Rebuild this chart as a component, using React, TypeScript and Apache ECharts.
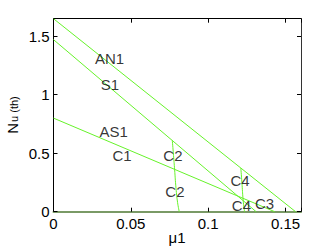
import React, { useEffect, useRef } from "react";
import * as echarts from "echarts";

// Boundary lines (mu1, N_u(th))
const AN1 = [[0, 1.65], [0.1565, 0]];
const S1 = [[0, 1.471], [0.131, 0]];
const AS1 = [[0, 0.8], [0.143, 0]];
const C2 = [[0.0768, 0.609], [0.0776, 0.48], [0.0783, 0.36], [0.0792, 0.2], [0.0802, 0.08], [0.0813, 0]];
const C4 = [[0.1211, 0.373], [0.1218, 0.25], [0.1226, 0.1], [0.1235, 0]];

// Region labels
const LABEL_NAMES = ["AN1", "S1", "AS1", "C1", "C2", "C2", "C4", "C4", "C3"];
const LABEL_X = [0.0362, 0.0365, 0.0389, 0.0443, 0.0772, 0.0785, 0.1206, 0.1215, 0.1364];
const LABEL_Y = [1.311, 1.085, 0.689, 0.48, 0.484, 0.172, 0.266, 0.057, 0.074];

const X_MIN = 0, X_MAX = 0.16, X_STEP = 0.05;
const Y_MIN = 0, Y_MAX = 1.65, Y_STEP = 0.5;

const GREEN = "#66f22a";
const FONT = "Liberation Sans, Arial, Helvetica, sans-serif";

const fmt = (step: number) => (v: number) =>
  Math.abs(v / step - Math.round(v / step)) > 1e-6 ? "" : String(+v.toFixed(3));

export default function App() {
  const ref = useRef<HTMLDivElement>(null);
  useEffect(() => {
    if (!ref.current) return;
    const chart = echarts.init(ref.current, undefined, { renderer: "svg" });
    const lineSeries = (name: string, data: number[][], smooth = false) => ({
      name,
      type: "line",
      data,
      showSymbol: false,
      symbol: "none",
      smooth,
      silent: true,
      lineStyle: { color: GREEN, width: 1 },
      z: 3,
    });
    chart.setOption({
      animation: false,
      backgroundColor: "#fff",
      textStyle: { fontFamily: FONT },
      grid: { left: 53.5, top: 18.7, right: 31, bottom: 38.3, containLabel: false, outerBoundsMode: "none" },
      xAxis: [
        {
          type: "value", min: X_MIN, max: X_MAX, interval: X_STEP, position: "bottom",
          axisLine: { show: true, onZero: false, lineStyle: { color: "#7a9a66", width: 2 } },
          axisTick: { show: true, inside: true, length: 4, lineStyle: { color: "#000" } },
          axisLabel: { color: "#000", fontSize: 15, fontFamily: FONT, margin: 4, formatter: fmt(X_STEP) },
          splitLine: { show: false },
        },
        {
          type: "value", min: X_MIN, max: X_MAX, interval: X_STEP, position: "top",
          axisLine: { show: true, onZero: false, lineStyle: { color: "#000", width: 1 } },
          axisTick: { show: true, inside: true, length: 4, lineStyle: { color: "#000" } },
          axisLabel: { show: false },
          splitLine: { show: false },
        },
      ],
      yAxis: [
        {
          type: "value", min: Y_MIN, max: Y_MAX, interval: Y_STEP, position: "left",
          axisLine: { show: true, onZero: false, lineStyle: { color: "#000", width: 1 } },
          axisTick: { show: true, inside: true, length: 4, lineStyle: { color: "#000" } },
          axisLabel: { color: "#000", fontSize: 15, fontFamily: FONT, margin: 4, formatter: fmt(Y_STEP) },
          splitLine: { show: false },
        },
        {
          type: "value", min: Y_MIN, max: Y_MAX, interval: Y_STEP, position: "right",
          axisLine: { show: true, onZero: false, lineStyle: { color: "#333", width: 1 } },
          axisTick: { show: true, inside: true, length: 4, lineStyle: { color: "#000" } },
          axisLabel: { show: false },
          splitLine: { show: false },
        },
      ],
      graphic: [
        {
          type: "text",
          x: 12,
          y: 115,
          rotation: Math.PI / 2,
          style: {
            text: "{a|N}{b|u (th)}",
            align: "center",
            verticalAlign: "middle",
            fill: "#000",
            fontFamily: FONT,
            rich: {
              a: { fontSize: 15, lineHeight: 15, verticalAlign: "top", fontFamily: FONT, fill: "#000" },
              b: { fontSize: 11, lineHeight: 10, verticalAlign: "bottom", padding: [9, 0, 0, 1], fontFamily: FONT, fill: "#000" },
            },
          },
        },
        {
          type: "text",
          x: 177,
          y: 237.5,
          style: { text: "μ1", align: "center", verticalAlign: "middle", fontSize: 15, fontFamily: FONT, fill: "#000" },
        },
      ],
      series: [
        lineSeries("AN1", AN1),
        lineSeries("S1", S1),
        lineSeries("AS1", AS1),
        lineSeries("C2", C2, true),
        lineSeries("C4", C4, true),
        {
          type: "scatter",
          silent: true,
          symbolSize: 1,
          itemStyle: { color: "rgba(0,0,0,0)" },
          data: LABEL_NAMES.map((n, i) => ({ name: n, value: [LABEL_X[i], LABEL_Y[i]] })),
          label: {
            show: true,
            position: "inside",
            formatter: "{b}",
            color: "#000",
            fontSize: 15,
            fontFamily: FONT,
          },
          z: 5,
        },
      ],
    });
    return () => chart.dispose();
  }, []);
  return (
    <div
      ref={ref}
      style={{ position: "fixed", left: 0, top: 0, width: 332, height: 250, background: "#fff" }}
    />
  );
}
